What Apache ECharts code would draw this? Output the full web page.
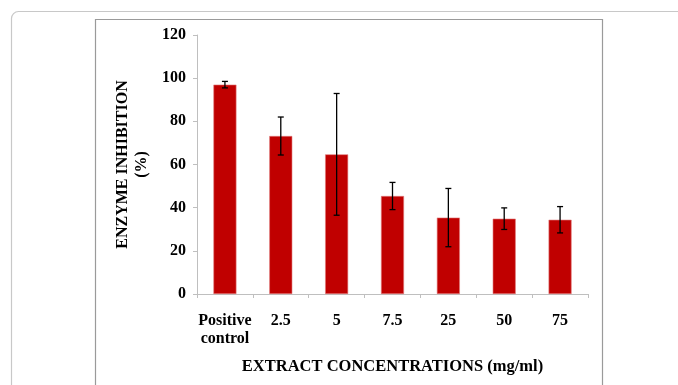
<!DOCTYPE html>
<html>
<head>
<meta charset="utf-8">
<script src="https://cdn.jsdelivr.net/npm/echarts@6/dist/echarts.min.js"></script>
<style>
html,body{margin:0;padding:0;background:#fff;}
#c{width:678px;height:385px;}
</style>
</head>
<body>
<div id="c"></div>
<script>
var categories = ['Positive\ncontrol', '2.5', '5', '7.5', '25', '50', '75'];
var means = [97, 73.2, 64.7, 45.4, 35.4, 34.9, 34.4];
var errors = [1.5, 8.8, 28.2, 6.3, 13.5, 5.0, 6.1];
var yTicks = [0, 20, 40, 60, 80, 100, 120];

var FONT = '"Liberation Serif", "Times New Roman", serif';
var chart = echarts.init(document.getElementById('c'), null, {renderer: 'canvas'});

var errData = means.map(function (m, i) { return [i, m - errors[i], m + errors[i]]; });

chart.setOption({
  animation: false,
  backgroundColor: '#fff',
  graphic: [
    {type: 'rect', shape: {x: 11.5, y: 11.5, width: 700, height: 400, r: 7}, style: {fill: 'none', stroke: '#c8c8c8', lineWidth: 1.2}, z: -10},
    {type: 'rect', shape: {x: 95.5, y: 19.5, width: 507, height: 400}, style: {fill: 'none', stroke: '#9a9a9a', lineWidth: 1.2}, z: -10}
  ],
  grid: {left: 197, right: 90, top: 35, bottom: 91, containLabel: false},
  xAxis: {
    type: 'category',
    data: categories,
    axisLine: {lineStyle: {color: '#bfbfbf', width: 1}},
    axisTick: {show: true, length: 4, lineStyle: {color: '#bfbfbf'}},
    axisLabel: {color: '#000', fontFamily: FONT, fontWeight: 'bold', fontSize: 16, margin: 18, lineHeight: 18, interval: 0},
    name: 'EXTRACT CONCENTRATIONS (mg/ml)',
    nameLocation: 'middle',
    nameGap: 64,
    nameTextStyle: {color: '#000', fontFamily: FONT, fontWeight: 'bold', fontSize: 16.5}
  },
  yAxis: {
    type: 'value',
    min: yTicks[0],
    max: yTicks[yTicks.length - 1],
    interval: yTicks[1] - yTicks[0],
    splitLine: {show: false},
    axisLine: {show: true, lineStyle: {color: '#bfbfbf', width: 1}},
    axisTick: {show: true, length: 4, lineStyle: {color: '#bfbfbf'}},
    axisLabel: {color: '#000', fontFamily: FONT, fontWeight: 'bold', fontSize: 16, margin: 11},
    name: 'ENZYME INHIBITION\n(%)',
    nameLocation: 'middle',
    nameGap: 45,
    nameRotate: 90,
    nameTextStyle: {color: '#000', fontFamily: FONT, fontWeight: 'bold', fontSize: 16, lineHeight: 19, align: 'center'}
  },
  series: [
    {
      type: 'bar',
      data: means,
      barWidth: 23,
      itemStyle: {color: '#c00000', borderColor: '#e07a7a', borderWidth: 0.6}
    },
    {
      type: 'custom',
      data: errData,
      z: 10,
      renderItem: function (params, api) {
        var x = api.value(0);
        var lo = api.coord([x, api.value(1)]);
        var hi = api.coord([x, api.value(2)]);
        var hw = 3;
        var st = {stroke: '#000', lineWidth: 1.3};
        return {
          type: 'group',
          children: [
            {type: 'line', shape: {x1: lo[0], y1: lo[1], x2: hi[0], y2: hi[1]}, style: st},
            {type: 'line', shape: {x1: lo[0] - hw, y1: lo[1], x2: lo[0] + hw, y2: lo[1]}, style: st},
            {type: 'line', shape: {x1: hi[0] - hw, y1: hi[1], x2: hi[0] + hw, y2: hi[1]}, style: st}
          ]
        };
      }
    }
  ]
});
</script>
</body>
</html>
